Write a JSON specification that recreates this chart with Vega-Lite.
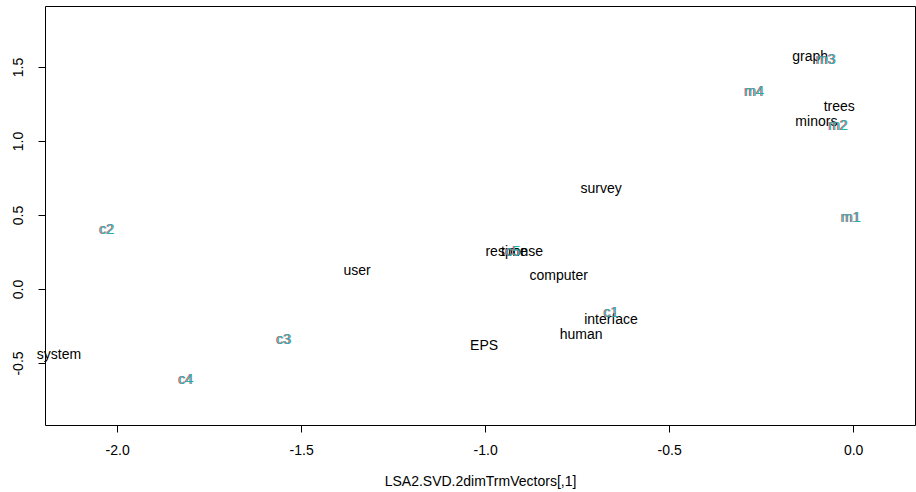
{
  "$schema": "https://vega.github.io/schema/vega-lite/v6.json",
  "width": 870,
  "height": 419,
  "autosize": {"type": "none"},
  "padding": {"left": 45, "top": 6, "right": 1, "bottom": 67},
  "background": "white",
  "config": {
    "view": {"stroke": "black", "strokeWidth": 1},
    "font": "Liberation Sans",
    "axis": {"grid": false, "domain": false, "tickColor": "black", "tickSize": 7, "labelColor": "black", "labelFont": "Liberation Sans", "labelFontSize": 14, "titleFont": "Liberation Sans", "titleFontSize": 14, "titleFontWeight": "normal", "titleColor": "black"}
  },
  "datasets": {
    "terms": [
      {"x": -0.117, "y": 1.568, "label": "graph"},
      {"x": -0.038, "y": 1.23, "label": "trees"},
      {"x": -0.100, "y": 1.128, "label": "minors"},
      {"x": -0.685, "y": 0.676, "label": "survey"},
      {"x": -0.921, "y": 0.25, "label": "response"},
      {"x": -0.921, "y": 0.25, "label": "time"},
      {"x": -0.800, "y": 0.088, "label": "computer"},
      {"x": -1.348, "y": 0.122, "label": "user"},
      {"x": -0.658, "y": -0.21, "label": "interface"},
      {"x": -0.739, "y": -0.31, "label": "human"},
      {"x": -1.003, "y": -0.385, "label": "EPS"},
      {"x": -2.158, "y": -0.446, "label": "system"}
    ],
    "docs": [
      {"x": -0.076, "y": 1.547, "label": "m3"},
      {"x": -0.271, "y": 1.331, "label": "m4"},
      {"x": -0.043, "y": 1.101, "label": "m2"},
      {"x": -0.008, "y": 0.48, "label": "m1"},
      {"x": -2.03, "y": 0.399, "label": "c2"},
      {"x": -0.927, "y": 0.25, "label": "c5"},
      {"x": -0.66, "y": -0.162, "label": "c1"},
      {"x": -1.549, "y": -0.345, "label": "c3"},
      {"x": -1.815, "y": -0.615, "label": "c4"}
    ]
  },
  "encoding": {
    "x": {"field": "x", "type": "quantitative", "scale": {"domain": [-2.196, 0.168], "nice": false, "zero": false}, "axis": {"values": [-2, -1.5, -1, -0.5, 0], "labelExpr": "replace(format(datum.value, '.1f'), '\u2212', '-')", "labelPadding": 11, "title": "LSA2.SVD.2dimTrmVectors[,1]", "titlePadding": 17}},
    "y": {"field": "y", "type": "quantitative", "scale": {"domain": [-0.919, 1.912], "nice": false, "zero": false}, "axis": {"values": [-0.5, 0, 0.5, 1, 1.5], "labelExpr": "replace(format(datum.value, '.1f'), '\u2212', '-')", "title": null, "labelAngle": -90, "labelAlign": "center", "labelBaseline": "bottom", "labelPadding": 13}},
    "text": {"field": "label"}
  },
  "layer": [
    {"data": {"name": "terms"}, "mark": {"type": "text", "fontSize": 14, "color": "black", "align": "center", "baseline": "middle"}},
    {"data": {"name": "docs"}, "mark": {"type": "text", "fontSize": 14, "color": "#c8484f", "align": "center", "baseline": "middle"}},
    {"data": {"name": "docs"}, "mark": {"type": "text", "fontSize": 14, "color": "#1fb0b3", "align": "center", "baseline": "middle", "dx": 1}}
  ]
}
